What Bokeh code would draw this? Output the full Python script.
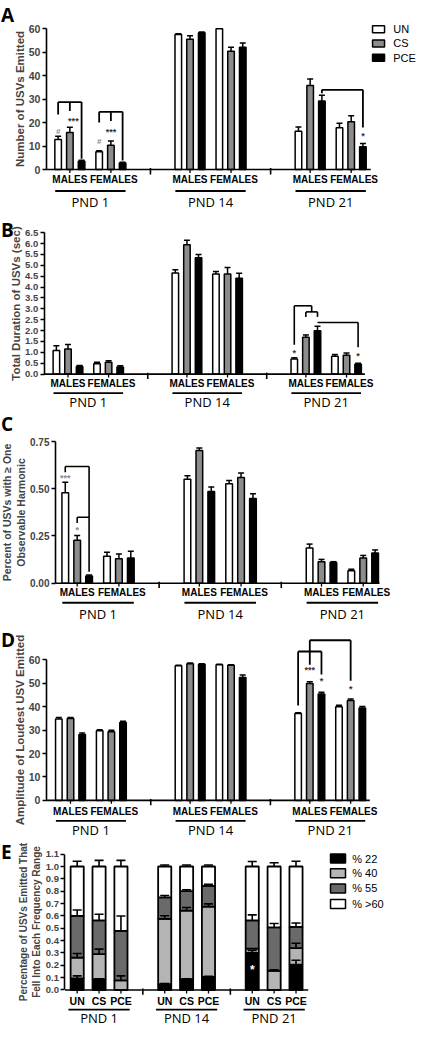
import numpy as np
from bokeh.plotting import figure
from bokeh.layouts import column
from bokeh.models import (ColumnDataSource, FixedTicker, NumeralTickFormatter,
                          Range1d, Whisker, TeeHead)
from bokeh.core.properties import value
from bokeh.embed import file_html
from bokeh.resources import INLINE

# ---------------- data ----------------
pnd_labels = ["PND 1", "PND 14", "PND 21"]
sex_labels = ["MALES", "FEMALES"]
treatments = ["UN", "CS", "PCE"]

# order: PND1-M (UN,CS,PCE), PND1-F, PND14-M, PND14-F, PND21-M, PND21-F
usv_count_mean = [12.8, 15.8, 3.5, 7.6, 10.3, 2.8, 57.6, 55.6, 58.3, 60.0, 50.4, 52.1,
                  16.3, 35.8, 29.2, 17.8, 20.4, 9.7]
usv_count_sem = [1.4, 2.2, 0.4, 0.4, 1.9, 0.3, 0.3, 1.4, 0.3, 0.0, 1.7, 1.9,
                 1.8, 2.8, 2.5, 1.9, 2.5, 1.4]

duration_mean = [1.08, 1.16, 0.35, 0.48, 0.55, 0.33, 4.65, 5.95, 5.35, 4.6, 4.6, 4.4,
                 0.69, 1.69, 1.99, 0.82, 0.87, 0.45]
duration_sem = [0.22, 0.2, 0.05, 0.07, 0.07, 0.05, 0.15, 0.2, 0.15, 0.12, 0.3, 0.23,
                0.06, 0.11, 0.21, 0.08, 0.1, 0.05]

harmonic_mean = [0.479, 0.228, 0.038, 0.143, 0.129, 0.133, 0.55, 0.703, 0.486, 0.526, 0.56, 0.448,
                 0.186, 0.114, 0.109, 0.066, 0.133, 0.16]
harmonic_sem = [0.055, 0.025, 0.006, 0.021, 0.026, 0.036, 0.019, 0.013, 0.023, 0.017, 0.023, 0.026,
                0.021, 0.012, 0.005, 0.008, 0.014, 0.016]

amplitude_mean = [34.7, 34.9, 28.1, 29.7, 29.3, 33.2, 57.4, 58.3, 58.05, 57.8, 57.6, 52.4,
                  37.1, 49.9, 45.4, 39.9, 42.6, 39.4]
amplitude_sem = [0.7, 0.5, 0.65, 0.4, 0.6, 0.55, 0.2, 0.3, 0.25, 0.25, 0.3, 1.1,
                 0.3, 0.7, 0.7, 0.7, 0.6, 0.6]

# panel E: order PND1 (UN,CS,PCE), PND14, PND21 ; fraction in each frequency range
freq_ranges = ["% 22", "% 40", "% 55", "% >60"]
pct22 = [0.093, 0.087, 0.0, 0.048, 0.087, 0.105, 0.300, 0.0, 0.206]
pct40 = [0.169, 0.204, 0.077, 0.528, 0.556, 0.570, 0.035, 0.155, 0.133]
pct55 = [0.338, 0.272, 0.402, 0.174, 0.157, 0.168, 0.228, 0.352, 0.171]
pct60 = [0.400, 0.437, 0.521, 0.250, 0.200, 0.157, 0.437, 0.493, 0.490]
pct22_sem = [0.021, 0.004, 0.0, 0.005, 0.004, 0.005, 0.02, 0.0, 0.035]
pct40_sem = [0.033, 0.04, 0.037, 0.025, 0.025, 0.022, 0.0, 0.008, 0.039]
pct55_sem = [0.048, 0.05, 0.12, 0.015, 0.012, 0.012, 0.045, 0.032, 0.032]
pct60_sem = [0.043, 0.05, 0.05, 0.012, 0.012, 0.012, 0.04, 0.03, 0.043]

# ---------------- style / layout ----------------
S = 0.977
FW = 418
SANS = "Liberation Sans"
HUM = "Open Sans"
TREAT_FILL = ["white", "#8c8c8c", "black"]
FREQ_FILL = ["black", "#b4b4b4", "#6a6a6a", "white"]
STAR = "#333333"
HASH = "#8a8a8a"


def bar_x(pi, si, ti):
    return pi * 10.25 + si * 3.5 + ti


def make_fig(geom, letter, letter_off):
    top, bot, base, k, axx, x0, unit, axend = geom
    h = round(S * (bot - top))
    p = figure(width=FW, height=h, output_backend="svg", toolbar_location=None,
               x_range=Range1d((2 - x0) / unit, (429.9 - x0) / unit),
               y_range=Range1d(-(bot - base) / k, (base - top) / k),
               x_axis_type=None, min_border_left=0, min_border_right=0,
               min_border_top=0, min_border_bottom=0)
    p.grid.visible = False
    p.outline_line_color = None
    p.yaxis.fixed_location = (axx - x0) / unit
    p.text(x=[(2.5 - x0) / unit], y=[(base - top - letter_off) / k], text=[letter],
           text_font=value(HUM), text_font_style="bold", text_font_size="19px",
           text_baseline="top", text_align="left", text_color="black")
    g = dict(k=k, base=base, x0=x0, unit=unit, xs=(axx - x0) / unit,
             xe=(axend - x0) / unit)
    return p, g


def style_y(p, ymax, ticks, fmt, fs, label, lfs, standoff=0):
    ax = p.yaxis[0]
    ax.bounds = (0, ymax)
    ax.ticker = FixedTicker(ticks=ticks)
    ax.formatter = NumeralTickFormatter(format=fmt)
    ax.major_label_text_font = SANS
    ax.major_label_text_font_style = "bold"
    ax.major_label_text_font_size = fs
    ax.major_label_standoff = 2
    ax.axis_line_width = 1.6
    ax.major_tick_line_width = 1.6
    ax.major_tick_in = 0
    ax.major_tick_out = 4
    ax.minor_tick_line_color = None
    ax.axis_label = label
    ax.axis_label_text_font = SANS
    ax.axis_label_text_font_style = "bold"
    ax.axis_label_text_font_size = lfs
    ax.axis_label_standoff = standoff


def x_axis(p, g, lab_x, lab_text, ul_spans, pnd_x, offs, seps, ticks_x, lab_fs="10px"):
    d = lambda px: px / g["k"]
    p.segment(x0=[g["xs"]], y0=[0], x1=[g["xe"]], y1=[0], line_color="black", line_width=1.6)
    n = len(seps)
    p.segment(x0=seps, y0=[d(1.5)] * n, x1=seps, y1=[-d(5)] * n, line_color="black", line_width=1.6)
    m = len(ticks_x)
    p.segment(x0=ticks_x, y0=[0] * m, x1=ticks_x, y1=[-d(3.5)] * m, line_color="black", line_width=1.3)
    p.text(x=lab_x, y=[-d(offs[0])] * len(lab_x), text=lab_text, text_font=value(SANS),
           text_font_style="bold", text_font_size=lab_fs, text_align="center",
           text_baseline="middle", text_color="black")
    p.segment(x0=[a for a, b in ul_spans], y0=[-d(offs[1])] * len(ul_spans),
              x1=[b for a, b in ul_spans], y1=[-d(offs[1])] * len(ul_spans),
              line_color="black", line_width=1.8)
    p.text(x=pnd_x, y=[-d(offs[2])] * len(pnd_x), text=pnd_labels, text_font=value(HUM),
           text_font_size="13px", text_align="center", text_baseline="middle",
           text_color="black")


def sig(p, g, lines, marks, lw=1.6):
    p.segment(x0=[l[0] for l in lines], y0=[l[1] for l in lines],
              x1=[l[2] for l in lines], y1=[l[3] for l in lines],
              line_color="black", line_width=lw)
    d = lambda px: px / g["k"]
    for (xx, yy, txt, col, fs) in marks:
        p.text(x=[xx], y=[yy - d(2)], text=[txt], text_font=value(SANS), text_font_style="bold",
               text_font_size=fs, text_color=col, text_align="center", text_baseline="middle")


def bar_panel(geom, letter, letter_off, mean, sem, ymax, ticks, fmt, tfs, label, lfs, offs):
    p, g = make_fig(geom, letter, letter_off)
    style_y(p, ymax, ticks, fmt, tfs, label, lfs)
    xs = [bar_x(pi, si, ti) for pi in range(3) for si in range(2) for ti in range(3)]
    src = ColumnDataSource(dict(x=xs, top=mean, upper=[m + e for m, e in zip(mean, sem)],
                                fill=TREAT_FILL * 6, treat=treatments * 6))
    p.add_layout(Whisker(source=src, base="x", upper="upper", lower="top", dimension="height",
                         line_color="black", line_width=1.5,
                         upper_head=TeeHead(size=6, line_width=1.5, line_color="black"),
                         lower_head=None))
    p.vbar(x="x", top="top", bottom=0, width=0.56, fill_color="fill", line_color="black",
           line_width=1.5, source=src)
    lab_x = [pi * 10.25 + si * 3.5 + 1 + (0.25 if si else 0.0) for pi in range(3) for si in range(2)]
    tick_x = [pi * 10.25 + si * 3.5 + 1 for pi in range(3) for si in range(2)]
    lab_t = sex_labels * 3
    ul = [(pi * 10.25 - 0.25, pi * 10.25 + 5.75) for pi in range(3)]
    pnd_x = [pi * 10.25 + 2.75 for pi in range(3)]
    seps = [pi * 10.25 + 7.875 for pi in range(2)]
    x_axis(p, g, lab_x, lab_t, ul, pnd_x, offs, seps, tick_x)
    return p, g


# geometry: (top, bottom, base, px/unit, axis-x, x of first bar, px per slot, axis end)
GA = (0, 217, 173, 2.4, 49, 61, 12, 381)
GB = (217, 420, 382.7, 22.31, 46.7, 59.2, 11.88, 375)
GC = (420, 641, 596.7, 193.3, 58.3, 68.3, 12.2, 390)
GD = (641, 858, 819, 2.4, 49, 61.7, 11.95, 380)
GE = (858, 1050, 1012.7, 126.1, 68, 80.5, 22.4, 317)

# ---------------- A ----------------
pA, gA = bar_panel(GA, "A", 2, usv_count_mean, usv_count_sem, 60, list(range(0, 61, 10)), "0",
                   "10.5px", "Number of USVs Emitted", "11.5px", (10, 22, 33))
m_u, m_c, m_p = bar_x(0, 0, 0), bar_x(0, 0, 1), bar_x(0, 0, 2)
f_u, f_c, f_p = bar_x(0, 1, 0), bar_x(0, 1, 1), bar_x(0, 1, 2)
mm, fm = (m_u + m_p) / 2, (f_u + f_p) / 2
m21p, f21p = bar_x(2, 0, 2), bar_x(2, 1, 2)
sig(pA, gA,
    [(m_u, 28.75, m_p, 28.75), (m_u, 28.75, m_u, 23.5), (mm, 28.75, mm, 25.0), (m_p, 28.75, m_p, 4.6),
     (f_u, 24.6, f_p, 24.6), (f_u, 24.6, f_u, 20.0), (fm, 24.6, fm, 20.7), (f_p, 24.6, f_p, 3.8),
     (m21p, 34.0, f21p, 34.0), (m21p, 34.0, m21p, 32.5), (f21p, 34.0, f21p, 17.9)],
    [(m_u, 17.2, "#", HASH, "8px"), (mm + 0.3, 21.4, "***", STAR, "9px"),
     (f_u, 12.6, "#", HASH, "8px"), (fm, 16.8, "***", STAR, "9px"),
     (f21p, 15.0, "*", STAR, "9px")], lw=1.8)
# legend A
xdA = lambda xr: (xr - gA["x0"]) / gA["unit"]
ydA = lambda yr: (gA["base"] - yr) / gA["k"]
pA.rect(x=[xdA(389)] * 3, y=[ydA(29.5), ydA(44), ydA(58.5)], width=12, height=7,
        width_units="screen", height_units="screen", fill_color=TREAT_FILL,
        line_color="black", line_width=1.5)
pA.text(x=[xdA(404)] * 3, y=[ydA(29.5), ydA(44), ydA(58.5)], text=treatments,
        text_font=value(SANS), text_font_size="11px", text_baseline="middle", text_align="left")

# ---------------- B ----------------
pB, gB = bar_panel(GB, "B", 5, duration_mean, duration_sem, 6.5,
                   [i * 0.5 for i in range(14)], "0.0", "9.5px",
                   "Total Duration of USVs (sec)", "11.5px", (10, 19.5, 28.5))
u, c, pc, fp = bar_x(2, 0, 0), bar_x(2, 0, 1), bar_x(2, 0, 2), bar_x(2, 1, 2)
mcp = (c + pc) / 2
sig(pB, gB,
    [(u, 3.14, mcp, 3.14), (u, 3.14, u, 1.35), (mcp, 3.14, mcp, 2.86),
     (c, 2.86, pc, 2.86), (c, 2.86, c, 2.63), (pc, 2.86, pc, 2.63),
     (pc, 2.37, fp, 2.37), (fp, 2.37, fp, 1.24)],
    [(u, 1.06, "*", STAR, "9px"), (fp, 0.94, "*", STAR, "9px")])

# ---------------- C ----------------
pC, gC = bar_panel(GC, "C", 0, harmonic_mean, harmonic_sem, 0.75, [0, 0.25, 0.5, 0.75], "0.00",
                   "10px", "Percent of USVs with \u2265 One\nObservable Harmonic", "10.5px",
                   (10, 20, 31))
u, c, pc = bar_x(0, 0, 0), bar_x(0, 0, 1), bar_x(0, 0, 2)
sig(pC, gC,
    [(u, 0.618, pc, 0.618), (u, 0.618, u, 0.587), (pc, 0.618, pc, 0.06),
     (c, 0.349, pc, 0.349), (c, 0.349, c, 0.319)],
    [(u, 0.568, "***", HASH, "9px"), (c, 0.29, "*", HASH, "9px")])

# ---------------- D ----------------
pD, gD = bar_panel(GD, "D", 1, amplitude_mean, amplitude_sem, 60, list(range(0, 61, 10)), "0",
                   "10.5px", "Amplitude of Loudest USV Emitted", "11.5px", (11, 21, 30))
u, c, pc, fc = bar_x(2, 0, 0), bar_x(2, 0, 1), bar_x(2, 0, 2), bar_x(2, 1, 1)
sig(pD, gD,
    [(u, 63.5, pc, 63.5), (u, 63.5, u, 40.5), (pc, 63.5, pc, 53.7),
     (c, 57.9, c, 68.3), (c, 68.3, fc, 68.3), (fc, 68.3, fc, 51.0)],
    [(c, 56.3, "***", STAR, "9px"), (pc, 51.7, "*", STAR, "9px"), (fc, 48.2, "*", STAR, "9px")],
    lw=1.8)

# ---------------- E ----------------
pE, gE = make_fig(GE, "E", 0)
style_y(pE, 1.1, [round(i * 0.1, 1) for i in range(12)], "0.0", "9.5px",
        "Percentage of USVs Emitted That\nFell Into Each Frequency Range", "10px")
ex = [pi * 4 + ti for pi in range(3) for ti in range(3)]
srcE = ColumnDataSource(dict(x=ex, p22=pct22, p40=pct40, p55=pct55, p60=pct60))
pE.vbar_stack(["p22", "p40", "p55", "p60"], x="x", width=0.6, source=srcE,
              fill_color=FREQ_FILL, line_color="black", line_width=1.8)
cum = np.cumsum(np.array([pct22, pct40, pct55, pct60]), axis=0)
sems = np.array([pct22_sem, pct40_sem, pct55_sem, pct60_sem])
wx, wl, wu = [], [], []
for j in range(4):
    for i in range(9):
        if sems[j, i] > 0:
            wx.append(ex[i]); wl.append(float(cum[j, i])); wu.append(float(cum[j, i] + sems[j, i]))
wsrc = ColumnDataSource(dict(x=wx, lower=wl, upper=wu))
pE.add_layout(Whisker(source=wsrc, base="x", upper="upper", lower="lower", dimension="height",
                      line_color="black", line_width=1.6, level="annotation",
                      upper_head=TeeHead(size=9, line_width=1.6, line_color="black"),
                      lower_head=None))
x_axis(pE, gE, ex, treatments * 3, [(pi * 4 - 0.4, pi * 4 + 2.4) for pi in range(3)],
       [pi * 4 + 1 for pi in range(3)], (11, 20, 29), [3, 7], ex, lab_fs="10.5px")
pE.text(x=[ex[6]], y=[0.18 - 2 / gE["k"]], text=["*"], text_font=value(SANS), text_font_style="bold",
        text_font_size="12px", text_color="white", text_align="center", text_baseline="middle")
xdE = lambda xr: (xr - gE["x0"]) / gE["unit"]
ydE = lambda yr: (gE["base"] - yr) / gE["k"]
ly = [ydE(878.5), ydE(893.5), ydE(909), ydE(925)]
pE.rect(x=[xdE(347.5)] * 4, y=ly, width=15, height=9, width_units="screen", height_units="screen",
        fill_color=FREQ_FILL, line_color="black", line_width=1.5)
pE.text(x=[xdE(362)] * 4, y=ly, text=freq_ranges, text_font=value(SANS), text_font_size="11px",
        text_baseline="middle", text_align="left")

layout = column(pA, pB, pC, pD, pE, spacing=0)
open("out.html", "w").write(file_html(layout, INLINE))
